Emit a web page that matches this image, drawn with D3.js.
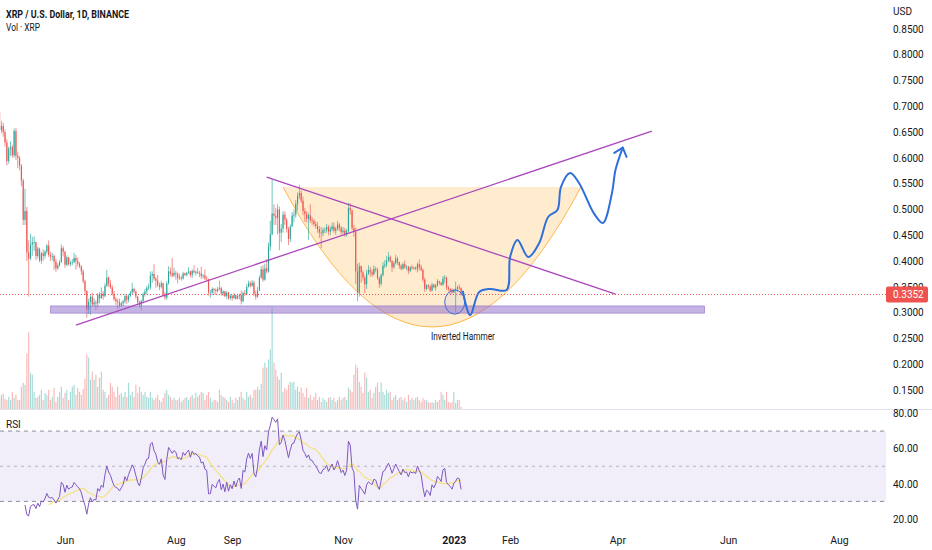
<!DOCTYPE html>
<html>
<head>
<meta charset="utf-8">
<script src="https://cdn.jsdelivr.net/npm/d3@7"></script>
<style>
html, body { margin: 0; padding: 0; background: #fff; }
svg { display: block; font-family: Roboto, "Noto Sans", sans-serif; }
</style>
</head>
<body>
<div id="root"></div>
<script>
// daily XRP/USD candles, first bar 2022-04-26
var startDate = '2022-04-26';
var firstOpen = 0.690;
var closes = [
  0.654, 0.662, 0.650, 0.630, 0.594, 0.618, 0.621, 0.605, 0.652, 0.604,
  0.600, 0.585, 0.556, 0.480, 0.497, 0.417, 0.405, 0.432, 0.436, 0.437,
  0.410, 0.424, 0.401, 0.415, 0.410, 0.418, 0.430, 0.412, 0.409, 0.410,
  0.399, 0.386, 0.392, 0.398, 0.425, 0.418, 0.393, 0.407, 0.394, 0.397,
  0.398, 0.406, 0.400, 0.395, 0.390, 0.380, 0.361, 0.342, 0.306, 0.321,
  0.331, 0.316, 0.320, 0.318, 0.335, 0.328, 0.337, 0.332, 0.352, 0.368,
  0.356, 0.349, 0.337, 0.326, 0.322, 0.320, 0.314, 0.318, 0.322, 0.332,
  0.325, 0.333, 0.339, 0.346, 0.341, 0.331, 0.320, 0.314, 0.323, 0.336,
  0.341, 0.348, 0.349, 0.372, 0.375, 0.366, 0.362, 0.353, 0.350, 0.357,
  0.336, 0.329, 0.357, 0.380, 0.376, 0.372, 0.377, 0.375, 0.367, 0.368,
  0.366, 0.376, 0.373, 0.377, 0.380, 0.373, 0.381, 0.378, 0.379, 0.377,
  0.376, 0.371, 0.372, 0.366, 0.365, 0.339, 0.339, 0.346, 0.344, 0.342,
  0.346, 0.348, 0.337, 0.341, 0.332, 0.339, 0.328, 0.333, 0.328, 0.334,
  0.327, 0.332, 0.334, 0.322, 0.338, 0.336, 0.350, 0.357, 0.352, 0.358,
  0.336, 0.331, 0.343, 0.368, 0.384, 0.364, 0.386, 0.380, 0.428, 0.452,
  0.492, 0.488, 0.484, 0.500, 0.455, 0.463, 0.490, 0.480, 0.462, 0.443,
  0.467, 0.488, 0.490, 0.511, 0.526, 0.532, 0.517, 0.497, 0.491, 0.482,
  0.489, 0.479, 0.478, 0.472, 0.468, 0.462, 0.455, 0.454, 0.460, 0.461,
  0.466, 0.457, 0.462, 0.467, 0.459, 0.463, 0.471, 0.464, 0.456, 0.459,
  0.452, 0.458, 0.503, 0.498, 0.464, 0.457, 0.380, 0.339, 0.390, 0.378,
  0.368, 0.355, 0.376, 0.383, 0.378, 0.374, 0.385, 0.383, 0.367, 0.356,
  0.373, 0.391, 0.393, 0.401, 0.408, 0.400, 0.388, 0.396, 0.405, 0.398,
  0.391, 0.385, 0.394, 0.388, 0.389, 0.381, 0.388, 0.386, 0.387, 0.385,
  0.394, 0.388, 0.383, 0.364, 0.346, 0.353, 0.350, 0.343, 0.354, 0.349,
  0.353, 0.361, 0.358, 0.354, 0.366, 0.368, 0.349, 0.346, 0.343, 0.339,
  0.344, 0.346, 0.349, 0.348, 0.3352
];
var highs = [
  0.699, 0.672, 0.668, 0.655, 0.636, 0.622, 0.632, 0.625, 0.657, 0.658,
  0.612, 0.604, 0.588, 0.560, 0.540, 0.505, 0.440, 0.453, 0.447, 0.448,
  0.437, 0.428, 0.426, 0.418, 0.423, 0.421, 0.433, 0.440, 0.418, 0.416,
  0.413, 0.404, 0.396, 0.402, 0.432, 0.429, 0.420, 0.411, 0.408, 0.401,
  0.404, 0.416, 0.412, 0.407, 0.398, 0.392, 0.384, 0.364, 0.344, 0.327,
  0.334, 0.339, 0.328, 0.324, 0.338, 0.340, 0.349, 0.342, 0.357, 0.383,
  0.370, 0.363, 0.353, 0.342, 0.330, 0.327, 0.327, 0.321, 0.325, 0.336,
  0.335, 0.336, 0.342, 0.358, 0.348, 0.343, 0.332, 0.323, 0.325, 0.339,
  0.346, 0.352, 0.356, 0.380, 0.380, 0.394, 0.369, 0.373, 0.358, 0.362,
  0.358, 0.340, 0.361, 0.390, 0.388, 0.406, 0.387, 0.381, 0.378, 0.376,
  0.372, 0.379, 0.378, 0.379, 0.388, 0.381, 0.384, 0.392, 0.382, 0.387,
  0.381, 0.389, 0.375, 0.384, 0.371, 0.366, 0.344, 0.349, 0.348, 0.347,
  0.350, 0.362, 0.350, 0.344, 0.342, 0.342, 0.340, 0.336, 0.334, 0.338,
  0.335, 0.334, 0.337, 0.343, 0.341, 0.344, 0.355, 0.362, 0.361, 0.363,
  0.362, 0.343, 0.350, 0.372, 0.390, 0.392, 0.395, 0.404, 0.436, 0.478,
  0.558, 0.510, 0.503, 0.510, 0.506, 0.472, 0.497, 0.496, 0.484, 0.466,
  0.471, 0.495, 0.500, 0.518, 0.533, 0.548, 0.537, 0.525, 0.503, 0.497,
  0.494, 0.510, 0.485, 0.482, 0.477, 0.476, 0.468, 0.466, 0.465, 0.465,
  0.472, 0.470, 0.467, 0.475, 0.475, 0.466, 0.478, 0.474, 0.468, 0.466,
  0.464, 0.462, 0.513, 0.512, 0.500, 0.470, 0.465, 0.395, 0.397, 0.392,
  0.382, 0.372, 0.383, 0.392, 0.389, 0.383, 0.392, 0.389, 0.387, 0.370,
  0.376, 0.398, 0.402, 0.410, 0.418, 0.411, 0.402, 0.400, 0.412, 0.408,
  0.399, 0.394, 0.397, 0.401, 0.392, 0.391, 0.390, 0.393, 0.389, 0.390,
  0.397, 0.403, 0.393, 0.385, 0.368, 0.355, 0.355, 0.353, 0.358, 0.356,
  0.356, 0.365, 0.362, 0.360, 0.371, 0.373, 0.370, 0.352, 0.348, 0.347,
  0.346, 0.360, 0.352, 0.355, 0.349
];
var lows = [
  0.648, 0.648, 0.641, 0.622, 0.585, 0.589, 0.604, 0.600, 0.601, 0.596,
  0.580, 0.576, 0.545, 0.470, 0.470, 0.400, 0.331, 0.402, 0.410, 0.420,
  0.402, 0.405, 0.398, 0.395, 0.400, 0.405, 0.414, 0.408, 0.400, 0.401,
  0.383, 0.379, 0.383, 0.389, 0.397, 0.409, 0.387, 0.390, 0.391, 0.390,
  0.392, 0.396, 0.383, 0.389, 0.386, 0.373, 0.357, 0.334, 0.290, 0.297,
  0.296, 0.312, 0.311, 0.305, 0.310, 0.318, 0.327, 0.325, 0.330, 0.350,
  0.350, 0.346, 0.333, 0.323, 0.315, 0.307, 0.310, 0.312, 0.313, 0.318,
  0.317, 0.320, 0.330, 0.336, 0.337, 0.327, 0.316, 0.310, 0.304, 0.318,
  0.331, 0.335, 0.344, 0.345, 0.358, 0.362, 0.348, 0.350, 0.344, 0.347,
  0.332, 0.325, 0.325, 0.354, 0.370, 0.368, 0.369, 0.364, 0.357, 0.364,
  0.362, 0.364, 0.371, 0.370, 0.375, 0.368, 0.367, 0.376, 0.372, 0.375,
  0.369, 0.365, 0.366, 0.363, 0.361, 0.333, 0.329, 0.334, 0.335, 0.334,
  0.339, 0.343, 0.333, 0.332, 0.330, 0.326, 0.325, 0.325, 0.323, 0.327,
  0.325, 0.326, 0.326, 0.316, 0.320, 0.332, 0.335, 0.349, 0.349, 0.350,
  0.332, 0.325, 0.329, 0.342, 0.366, 0.360, 0.362, 0.376, 0.378, 0.420,
  0.450, 0.470, 0.470, 0.452, 0.421, 0.437, 0.455, 0.470, 0.455, 0.431,
  0.437, 0.466, 0.475, 0.484, 0.498, 0.520, 0.512, 0.489, 0.476, 0.475,
  0.441, 0.474, 0.470, 0.467, 0.463, 0.455, 0.445, 0.425, 0.448, 0.454,
  0.455, 0.450, 0.450, 0.458, 0.455, 0.451, 0.459, 0.458, 0.451, 0.453,
  0.447, 0.447, 0.456, 0.490, 0.460, 0.447, 0.355, 0.322, 0.331, 0.358,
  0.362, 0.338, 0.346, 0.373, 0.370, 0.369, 0.372, 0.378, 0.364, 0.348,
  0.352, 0.370, 0.386, 0.388, 0.398, 0.397, 0.379, 0.385, 0.393, 0.393,
  0.385, 0.382, 0.383, 0.385, 0.382, 0.375, 0.378, 0.383, 0.384, 0.382,
  0.378, 0.382, 0.380, 0.359, 0.340, 0.343, 0.346, 0.340, 0.341, 0.347,
  0.343, 0.350, 0.354, 0.352, 0.352, 0.357, 0.344, 0.341, 0.335, 0.337,
  0.338, 0.301, 0.340, 0.344, 0.333
];
// volume, tens of millions XRP
var volumes = [
  10, 14, 15, 10, 9, 12, 9, 17, 11, 14,
  9, 9, 22, 26, 24, 55, 76, 36, 34, 17,
  11, 12, 14, 19, 9, 16, 14, 19, 9, 12,
  21, 7, 12, 17, 22, 11, 16, 19, 9, 17,
  22, 24, 14, 21, 17, 14, 20, 30, 54, 51,
  29, 37, 29, 34, 22, 31, 37, 19, 17, 11,
  14, 26, 22, 17, 12, 22, 14, 16, 12, 17,
  12, 26, 14, 17, 12, 24, 16, 22, 17, 14,
  17, 12, 11, 17, 11, 9, 11, 14, 9, 7,
  11, 16, 19, 14, 12, 9, 11, 9, 9, 11,
  7, 9, 11, 12, 9, 12, 14, 11, 16, 12,
  14, 17, 16, 9, 14, 17, 11, 7, 9, 9,
  7, 19, 14, 12, 11, 9, 7, 12, 9, 6,
  11, 9, 12, 17, 11, 9, 17, 12, 14, 11,
  19, 19, 22, 19, 25, 41, 46, 41, 49, 59,
  101, 46, 39, 32, 29, 36, 17, 21, 19, 24,
  27, 26, 27, 19, 22, 17, 21, 16, 12, 21,
  11, 14, 9, 12, 16, 9, 12, 7, 11, 9,
  7, 11, 12, 9, 11, 7, 9, 12, 9, 11,
  12, 9, 21, 19, 17, 34, 44, 41, 27, 22,
  16, 36, 31, 17, 19, 11, 16, 22, 26, 17,
  26, 17, 14, 19, 16, 17, 9, 12, 14, 9,
  11, 12, 9, 11, 7, 14, 9, 11, 9, 11,
  12, 9, 7, 11, 9, 9, 7, 6, 7, 6,
  9, 7, 9, 17, 14, 9, 17, 7, 6, 7,
  17, 6, 9, 9, 2
];
var lastPrice = 0.3352;

var timeTicks = ['2022-06-01', '2022-08-01', '2022-09-01', '2022-11-01', '2023-01-01',
  '2023-02-01', '2023-04-01', '2023-06-01', '2023-08-01'];
var timeLabels = ['Jun', 'Aug', 'Sep', 'Nov', '2023', 'Feb', 'Apr', 'Jun', 'Aug'];
var priceTicks = [0.15, 0.2, 0.25, 0.3, 0.35, 0.4, 0.45, 0.5, 0.55, 0.6, 0.65, 0.7, 0.75, 0.8, 0.85];
var rsiTicks = [20, 40, 60, 80];
var rsiLevels = [70, 50, 30];
var rsiLength = 14;

// drawings (date, price)
var supportBox = [['2022-05-24', 0.313], ['2023-05-19', 0.299]];
var risingLine = [['2022-06-07', 0.276], ['2023-04-20', 0.652]];
var fallingLine = [['2022-09-20', 0.563], ['2023-03-31', 0.336]];
var cupArc = [['2022-09-29', 0.5436], ['2022-12-20', 0.2722], ['2023-03-12', 0.5436]];
var forecastPath = [
  ['2023-01-06', 0.341], ['2023-01-10', 0.295], ['2023-01-15', 0.340], ['2023-01-21', 0.346],
  ['2023-01-30', 0.344], ['2023-02-01', 0.408], ['2023-02-05', 0.441], ['2023-02-11', 0.408],
  ['2023-02-17', 0.435], ['2023-02-22', 0.486], ['2023-02-27', 0.499], ['2023-03-01', 0.544],
  ['2023-03-06', 0.571], ['2023-03-11', 0.551], ['2023-03-19', 0.493], ['2023-03-24', 0.474],
  ['2023-03-29', 0.531], ['2023-03-31', 0.577], ['2023-04-04', 0.620]
];
var hammerCircle = [['2022-12-27', 0.344], ['2023-01-07', 0.297]];
var hammerLabel = ['2023-01-06', 0.2547, 'Inverted Hammer'];

var w = 932;
var h = 550;
var paneRight = 886;
var paneBottom = 409;
var parse = d3.utcParse('%Y-%m-%d');
var start = parse(startDate);
var upColor = '#26a69a';
var downColor = '#ef5350';

var bars = closes.map(function(c, i) {
  var o = i ? closes[i - 1] : firstOpen;
  return {
    date: d3.utcDay.offset(start, i),
    o: o,
    c: c,
    h: Math.max(highs[i], o, c),
    l: Math.min(lows[i], o, c),
    v: volumes[i]
  };
});

// rsi 14 (wilder) and its 14 sma
var rsi = [];
var avgG = 0, avgL = 0;
bars.forEach(function(b, i) {
  if (i === 0) { rsi.push(null); return; }
  var ch = b.c - bars[i - 1].c;
  var g = Math.max(ch, 0), l = Math.max(-ch, 0);
  if (i <= rsiLength) {
    avgG += g / rsiLength;
    avgL += l / rsiLength;
  } else {
    avgG = (avgG * (rsiLength - 1) + g) / rsiLength;
    avgL = (avgL * (rsiLength - 1) + l) / rsiLength;
  }
  rsi.push(i < rsiLength ? null : (avgL === 0 ? 100 : 100 - 100 / (1 + avgG / avgL)));
});
var rsiMa = rsi.map(function(v, i) {
  var win = rsi.slice(Math.max(0, i - rsiLength + 1), i + 1);
  if (win.length < rsiLength || win.indexOf(null) >= 0) return null;
  return d3.mean(win);
});

var x = d3.scaleUtc()
  .domain([parse('2022-06-01'), parse('2023-08-01')])
  .range([65, 839]);
var y = d3.scaleLinear().domain([0.15, 0.85]).range([390, 29]);
var yVol = d3.scaleLinear().domain([0, d3.max(volumes)]).range([paneBottom, 307]);
var yRsi = d3.scaleLinear().domain([20, 80]).range([519, 413.5]);
var step = x(d3.utcDay.offset(start, 1)) - x(start);
var bw = Math.max(1, step * 0.62);

var px = function(p) { return [x(parse(p[0])), y(p[1])]; };

var svg = d3.select('#root').append('svg')
  .attr('width', w)
  .attr('height', h);

var defs = svg.append('defs');
defs.append('clipPath').attr('id', 'pane')
  .append('rect').attr('x', 0).attr('y', 0).attr('width', paneRight).attr('height', paneBottom);
defs.append('clipPath').attr('id', 'rsipane')
  .append('rect').attr('x', 0).attr('y', paneBottom + 1).attr('width', paneRight).attr('height', 118);

var main = svg.append('g').attr('clip-path', 'url(#pane)');

// volume
main.append('g')
  .selectAll('rect')
  .data(bars)
  .enter()
  .append('rect')
  .attr('x', function(d) { return x(d.date) - bw / 2; })
  .attr('y', function(d) { return yVol(d.v); })
  .attr('width', bw)
  .attr('height', function(d) { return paneBottom - yVol(d.v); })
  .attr('fill', function(d) { return d.c >= d.o ? upColor : downColor; })
  .attr('opacity', 0.42);

// cup fill under candles
var c0 = px(cupArc[0]), cv = px(cupArc[1]), c2 = px(cupArc[2]);
var ctrl = [2 * cv[0] - (c0[0] + c2[0]) / 2, 2 * cv[1] - (c0[1] + c2[1]) / 2];
var cupD = 'M' + c0 + 'Q' + ctrl + ' ' + c2;
main.append('path')
  .attr('d', cupD + 'Z')
  .attr('fill', 'rgba(255,167,38,0.22)');
main.append('path')
  .attr('d', cupD)
  .attr('fill', 'none')
  .attr('stroke', '#ffb74d')
  .attr('stroke-width', 1);

// candles
var candles = main.append('g')
  .selectAll('g')
  .data(bars)
  .enter()
  .append('g')
  .attr('fill', function(d) { return d.c >= d.o ? upColor : downColor; })
  .attr('stroke', function(d) { return d.c >= d.o ? upColor : downColor; });
candles.append('line')
  .attr('x1', function(d) { return x(d.date); })
  .attr('x2', function(d) { return x(d.date); })
  .attr('y1', function(d) { return y(d.h); })
  .attr('y2', function(d) { return y(d.l); })
  .attr('stroke-width', 0.8)
  .attr('opacity', 0.8);
candles.append('rect')
  .attr('x', function(d) { return x(d.date) - bw / 2; })
  .attr('y', function(d) { return y(Math.max(d.o, d.c)); })
  .attr('width', bw)
  .attr('height', function(d) { return Math.max(0.8, Math.abs(y(d.o) - y(d.c))); })
  .attr('stroke', 'none');

// support band
var b0 = px(supportBox[0]), b1 = px(supportBox[1]);
main.append('rect')
  .attr('x', b0[0])
  .attr('y', b0[1])
  .attr('width', b1[0] - b0[0])
  .attr('height', b1[1] - b0[1])
  .attr('fill', 'rgba(149,117,205,0.55)')
  .attr('stroke', 'rgba(126,87,194,0.6)')
  .attr('stroke-width', 0.8);

// trend lines
[risingLine, fallingLine].forEach(function(ln) {
  var a = px(ln[0]), b = px(ln[1]);
  main.append('line')
    .attr('x1', a[0]).attr('y1', a[1])
    .attr('x2', b[0]).attr('y2', b[1])
    .attr('stroke', '#ab47bc')
    .attr('stroke-width', 1.3);
});

// last price line
main.append('line')
  .attr('x1', 0).attr('x2', paneRight)
  .attr('y1', y(lastPrice)).attr('y2', y(lastPrice))
  .attr('stroke', downColor)
  .attr('stroke-width', 1)
  .attr('stroke-dasharray', '1,2');

// hammer circle + forecast
var e0 = px(hammerCircle[0]), e1 = px(hammerCircle[1]);
main.append('ellipse')
  .attr('cx', (e0[0] + e1[0]) / 2)
  .attr('cy', (e0[1] + e1[1]) / 2)
  .attr('rx', (e1[0] - e0[0]) / 2)
  .attr('ry', (e1[1] - e0[1]) / 2)
  .attr('fill', 'rgba(41,98,255,0.06)')
  .attr('stroke', '#3a6fd8')
  .attr('stroke-width', 1);

var pts = forecastPath.map(px);
main.append('path')
  .attr('d', d3.line().curve(d3.curveCatmullRom.alpha(0.5))(pts))
  .attr('fill', 'none')
  .attr('stroke', '#2f6fdc')
  .attr('stroke-width', 2)
  .attr('stroke-linecap', 'round');
var tip = pts[pts.length - 1], prev = pts[pts.length - 2];
var ang = Math.atan2(prev[1] - tip[1], prev[0] - tip[0]);
var arm = function(da) {
  return [tip[0] + 10 * Math.cos(ang + da), tip[1] + 10 * Math.sin(ang + da)];
};
main.append('path')
  .attr('d', 'M' + arm(0.7) + 'L' + tip + 'L' + arm(-0.7))
  .attr('fill', 'none')
  .attr('stroke', '#2f6fdc')
  .attr('stroke-width', 2)
  .attr('stroke-linecap', 'round')
  .attr('stroke-linejoin', 'round');

main.append('text')
  .attr('x', x(parse(hammerLabel[0])))
  .attr('y', y(hammerLabel[1]))
  .attr('dy', '0.35em')
  .attr('text-anchor', 'middle')
  .attr('font-size', 10)
  .attr('textLength', 64)
  .attr('lengthAdjust', 'spacingAndGlyphs')
  .attr('fill', '#131722')
  .text(hammerLabel[2]);

// header
svg.append('text')
  .attr('x', 6).attr('y', 17.5)
  .attr('font-size', 11)
  .attr('font-weight', 'bold')
  .attr('textLength', 123)
  .attr('lengthAdjust', 'spacingAndGlyphs')
  .attr('fill', '#131722')
  .text('XRP / U.S. Dollar, 1D, BINANCE');
svg.append('text')
  .attr('x', 6).attr('y', 31)
  .attr('font-size', 10.5)
  .attr('textLength', 34)
  .attr('lengthAdjust', 'spacingAndGlyphs')
  .attr('fill', '#131722')
  .text('Vol \u00b7 XRP');

// price axis
var priceAxis = svg.append('g')
  .attr('transform', 'translate(' + paneRight + ',0)')
  .call(d3.axisRight(y).tickValues(priceTicks).tickFormat(d3.format('.4f')).tickSize(0).tickPadding(7));
priceAxis.select('.domain').remove();
priceAxis.selectAll('text').attr('font-size', 10).attr('fill', '#131722').attr('font-family', 'Roboto, sans-serif');
svg.append('text')
  .attr('x', paneRight + 7).attr('y', 15)
  .attr('font-size', 10).attr('fill', '#131722')
  .text('USD');

// last price tag
svg.append('rect')
  .attr('x', paneRight).attr('y', y(lastPrice) - 8)
  .attr('width', 42).attr('height', 16)
  .attr('rx', 2)
  .attr('fill', downColor);
svg.append('text')
  .attr('x', paneRight + 7).attr('y', y(lastPrice))
  .attr('dy', '0.35em')
  .attr('font-size', 10).attr('fill', '#fff')
  .text(d3.format('.4f')(lastPrice));

// pane separator
svg.append('line')
  .attr('x1', 0).attr('x2', w)
  .attr('y1', paneBottom + 0.5).attr('y2', paneBottom + 0.5)
  .attr('stroke', '#e0e3eb');

// rsi pane
var rsiG = svg.append('g').attr('clip-path', 'url(#rsipane)');
rsiG.append('rect')
  .attr('x', 0).attr('y', yRsi(70))
  .attr('width', paneRight).attr('height', yRsi(30) - yRsi(70))
  .attr('fill', 'rgba(126,87,194,0.1)');
rsiG.append('g')
  .selectAll('line')
  .data(rsiLevels)
  .enter()
  .append('line')
  .attr('x1', 0).attr('x2', paneRight)
  .attr('y1', function(d) { return yRsi(d); })
  .attr('y2', function(d) { return yRsi(d); })
  .attr('stroke', '#8a8d98')
  .attr('stroke-width', 1)
  .attr('stroke-dasharray', function(d) { return d === 50 ? '3,4' : '4,4'; })
  .attr('opacity', function(d) { return d === 50 ? 0.6 : 1; });

rsiG.append('path')
  .datum(bars)
  .attr('d', d3.line()
    .defined(function(d, i) { return rsiMa[i] !== null; })
    .x(function(d) { return x(d.date); })
    .y(function(d, i) { return yRsi(rsiMa[i]); }))
  .attr('fill', 'none')
  .attr('stroke', '#f3e07a')
  .attr('stroke-width', 1.4)
  .attr('opacity', 0.85);
rsiG.append('path')
  .datum(bars)
  .attr('d', d3.line()
    .defined(function(d, i) { return rsi[i] !== null; })
    .x(function(d) { return x(d.date); })
    .y(function(d, i) { return yRsi(rsi[i]); }))
  .attr('fill', 'none')
  .attr('stroke', '#7e57c2')
  .attr('stroke-width', 1);

svg.append('text')
  .attr('x', 6).attr('y', 428)
  .attr('font-size', 10).attr('fill', '#131722')
  .text('RSI');

var rsiAxis = svg.append('g')
  .attr('transform', 'translate(' + paneRight + ',0)')
  .call(d3.axisRight(yRsi).tickValues(rsiTicks).tickFormat(d3.format('.2f')).tickSize(0).tickPadding(7));
rsiAxis.select('.domain').remove();
rsiAxis.selectAll('text').attr('font-size', 10).attr('fill', '#131722').attr('font-family', 'Roboto, sans-serif');

// time axis
var timeAxis = svg.append('g')
  .attr('transform', 'translate(0,529)')
  .call(d3.axisBottom(x)
    .tickValues(timeTicks.map(parse))
    .tickFormat(function(d, i) { return timeLabels[i]; })
    .tickSize(0)
    .tickPadding(8));
timeAxis.select('.domain').remove();
timeAxis.selectAll('text')
  .attr('font-size', 10.5)
  .attr('fill', '#131722')
  .attr('font-family', 'Roboto, sans-serif')
  .attr('font-weight', function(d, i) { return timeLabels[i] === '2023' ? 'bold' : 'normal'; });
</script>
</body>
</html>
